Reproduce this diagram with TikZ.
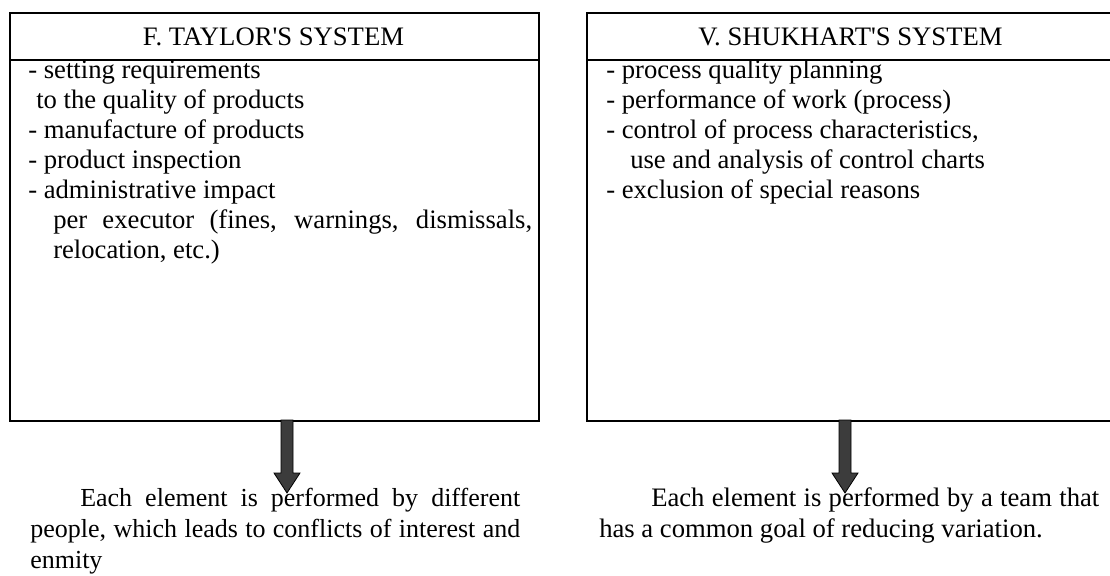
\documentclass[tikz,border=0pt]{standalone}
\usepackage{fontspec}
\setmainfont{Liberation Serif}
\usetikzlibrary{positioning}
\definecolor{arrowgray}{RGB}{60,60,60}

\tikzset{
    sysbox/.style={draw, line width=1.3pt, anchor=north west, minimum width=396.75pt, minimum height=306pt, inner sep=0pt},
    systitle/.style={anchor=base, inner sep=0pt, font=\fontsize{20}{22.5}\selectfont},
    syslist/.style={anchor=base west, inner sep=0pt, text width=378pt, align=justify, font=\fontsize{20}{22.5}\selectfont},
    sysnote/.style={anchor=base west, inner sep=0pt, text width=375pt, align=justify, font=\fontsize{20}{23.25}\selectfont},
    downarrow/.pic={\draw[fill=arrowgray, line width=0.6pt] (-6,0) -- (-6,-53) -- (-13,-53) -- (0,-73) -- (13,-53) -- (6,-53) -- (6,0) -- cycle;}
}

\begin{document}
\begin{tikzpicture}[x=0.75pt,y=0.75pt,yscale=-1,xscale=1]
    \useasboundingbox (0,0) rectangle (1110,575);

    % Left box
    \node[sysbox] (taylorbox) at (9,12) {};
    \draw[line width=1.3pt] ([yshift=36pt]taylorbox.north west) -- ([yshift=36pt]taylorbox.north east);
    \node[systitle] (taylortitle) at (273.5,45.5) {F. TAYLOR\textquotesingle S SYSTEM};
    \node[syslist] (taylorlist) at (28,78) {- setting requirements\\
        \hspace*{6pt}to the quality of products\\
        - manufacture of products\\
        - product inspection\\
        - administrative impact\\
        \hspace*{18.75pt}per executor (fines, warnings, dismissals,\linebreak
        \hspace*{18.75pt}relocation, etc.)};

    % Right box
    \node[sysbox] (shukhartbox) at (586,12) {};
    \draw[line width=1.3pt] ([yshift=36pt]shukhartbox.north west) -- ([yshift=36pt]shukhartbox.north east);
    \node[systitle] (shukharttitle) at (850.5,45.5) {V. SHUKHART\textquotesingle S SYSTEM};
    \node[syslist] (shukhartlist) at (606,78) {- process quality planning\\
        - performance of work (process)\\
        - control of process characteristics,\\
        \hspace*{18pt}use and analysis of control charts\\
        - exclusion of special reasons};

    % Arrows
    \coordinate (taylorfoot) at (287,420);
    \coordinate (shukhartfoot) at (845,420);
    \pic at (taylorfoot) {downarrow};
    \pic at (shukhartfoot) {downarrow};

    % Notes
    \node[sysnote, text width=367.5pt, font=\fontsize{19.5}{23.25}\selectfont] (taylornote) at (30,506) {\hspace*{37.5pt}Each element is performed by different people, which leads to conflicts of interest and enmity};
    \node[sysnote] (shukhartnote) at (599,506) {\hspace*{39pt}Each element is performed by a team that has a common goal of reducing variation.};
\end{tikzpicture}
\end{document}
